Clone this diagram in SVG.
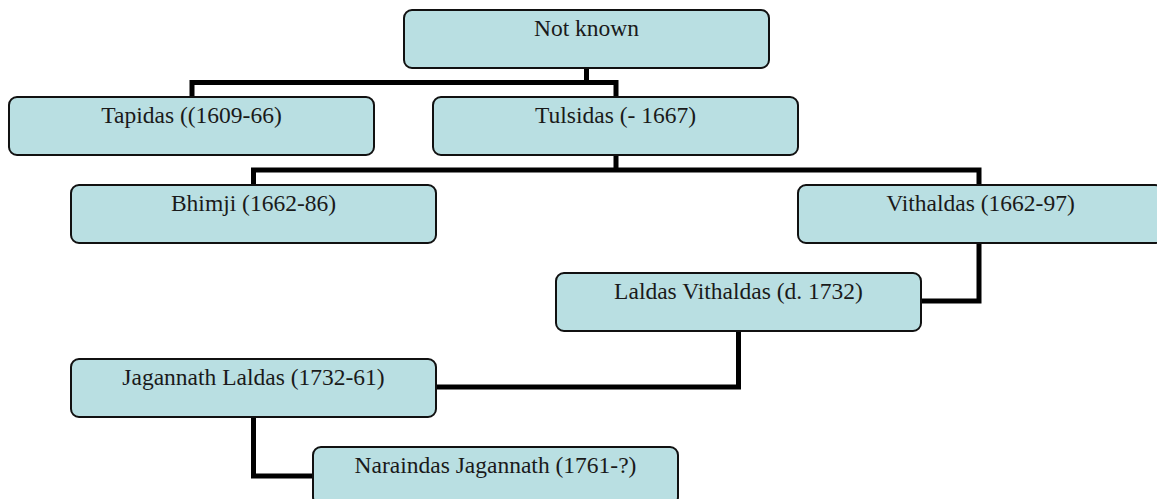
<svg xmlns="http://www.w3.org/2000/svg" width="1157" height="499" viewBox="0 0 1157 499">
  <style>
    .box { fill: #B9DFE2; stroke: #111; stroke-width: 2; }
    .lbl { font-size: 23.5px; fill: #1a1a1a; text-anchor: middle; }
    .conn { fill: none; stroke: #000; stroke-width: 5; stroke-linejoin: miter; stroke-linecap: square; }
  </style>
  <rect width="1157" height="499" fill="#fff"/>
  <g id="connectors">
    <path class="conn" d="M586.5,68 V82.5 M192,97 V82.5 H616 V97"/>
    <path class="conn" d="M616,156 V170 M253.5,185 V170 H979 V185"/>
    <path class="conn" d="M979,244 V301 H921"/>
    <path class="conn" d="M738.5,331 V387 H436"/>
    <path class="conn" d="M253.5,417 V476 H313"/>
  </g>
  <g font-family="Liberation Serif, serif">
  <g id="n1"><rect class="box" x="404" y="10" width="365" height="58" rx="8"/><text class="lbl" x="586.5" y="36">Not known</text></g>
  <g id="n2"><rect class="box" x="9" y="97" width="365" height="58" rx="8"/><text class="lbl" x="191.5" y="123">Tapidas ((1609-66)</text></g>
  <g id="n3"><rect class="box" x="433" y="97" width="365" height="58" rx="8"/><text class="lbl" x="615.5" y="123">Tulsidas (- 1667)</text></g>
  <g id="n4"><rect class="box" x="71" y="185" width="365" height="58" rx="8"/><text class="lbl" x="253.5" y="211">Bhimji (1662-86)</text></g>
  <g id="n5"><rect class="box" x="798" y="185" width="365" height="58" rx="8"/><text class="lbl" x="980.5" y="211">Vithaldas (1662-97)</text></g>
  <g id="n6"><rect class="box" x="556" y="273" width="365" height="58" rx="8"/><text class="lbl" x="738.5" y="299">Laldas Vithaldas (d. 1732)</text></g>
  <g id="n7"><rect class="box" x="71" y="359" width="365" height="58" rx="8"/><text class="lbl" x="253.5" y="385">Jagannath Laldas (1732-61)</text></g>
  <g id="n8"><rect class="box" x="313" y="447" width="365" height="58" rx="8"/><text class="lbl" x="495.5" y="473">Naraindas Jagannath (1761-?)</text></g>
  </g>
</svg>
